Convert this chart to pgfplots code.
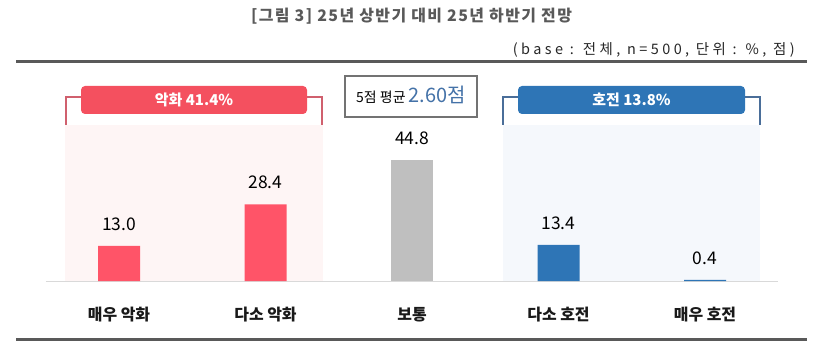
\documentclass[border=0pt]{standalone}
\usepackage{fontspec}
\setmainfont{Noto Sans CJK KR}
\newfontfamily\titlefont[LetterSpace=9]{Noto Sans CJK KR}
\newfontfamily\subfont[LetterSpace=24]{Noto Sans CJK KR}
\usepackage{pgfplots}
\pgfplotsset{compat=1.18}
\definecolor{barred}{HTML}{FF5468}
\definecolor{pillred}{HTML}{F4505F}
\definecolor{brred}{HTML}{D0606E}
\definecolor{bargray}{HTML}{BFBFBF}
\definecolor{barblue}{HTML}{2E75B6}
\definecolor{brblue}{HTML}{4A6E99}
\definecolor{bgpink}{HTML}{FEF5F5}
\definecolor{bgblue}{HTML}{F5F8FC}
\definecolor{titlegray}{HTML}{595959}
\definecolor{avgblue}{HTML}{4472A8}
\begin{document}
\begin{tikzpicture}
\useasboundingbox (0,0) rectangle (837bp,361bp);
% title
\node[font=\titlefont\fontsize{16}{18}\selectfont\bfseries, text=titlegray] at (411.5bp,345bp) {[그림 3] 25년 상반기 대비 25년 하반기 전망};
\node[font=\subfont\fontsize{14.5}{16}\selectfont, text=black!85, anchor=east, inner sep=0pt] at (795bp,311bp) {(base : 전체, n=500, 단위 : \%, 점)};
% rules
\draw[line width=3bp, titlegray] (16bp,299bp) -- (807bp,299bp);
\draw[line width=3bp, titlegray] (16bp,21bp) -- (807bp,21bp);
% backgrounds
\fill[bgpink] (65bp,80bp) rectangle (323bp,236bp);
\fill[bgblue] (503bp,80bp) rectangle (760bp,236bp);
% red bracket
\draw[brred, line width=1.5bp] (66bp,236bp) -- (66bp,264bp) -- (82bp,264bp);
\draw[brred, line width=1.5bp] (322bp,236bp) -- (322bp,264bp) -- (306bp,264bp);
\fill[pillred, rounded corners=4bp] (81bp,247bp) rectangle (307bp,275bp);
\node[text=white, font=\fontsize{15}{17}\selectfont\bfseries] at (194bp,261bp) {악화 41.4\%};
% blue bracket
\draw[brblue, line width=1.5bp] (503bp,236bp) -- (503bp,264bp) -- (519bp,264bp);
\draw[brblue, line width=1.5bp] (760bp,236bp) -- (760bp,264bp) -- (744bp,264bp);
\fill[barblue, rounded corners=4bp] (518bp,247bp) rectangle (745bp,275bp);
\node[text=white, font=\fontsize{15}{17}\selectfont\bfseries] at (631.5bp,261bp) {호전 13.8\%};
% average box
\draw[gray!90!black, line width=1.3bp, fill=white] (345bp,244bp) rectangle (477bp,285bp);
\node[anchor=base] at (411bp,258bp) {\fontsize{14}{16}\selectfont 5점 평균 \textcolor{avgblue}{\fontsize{20}{22}\selectfont 2.60점}};
\begin{axis}[
  at={(45.75bp,80bp)}, anchor=south west,
  scale only axis, width=732.5bp, height=135bp,
  xmin=-0.5, xmax=4.5, ymin=0, ymax=50,
  axis x line=bottom, axis y line=none,
  axis line style={draw=black!15, line width=1bp, -},
  xtick={0,1,2,3,4},
  xticklabels={매우 악화, 다소 악화, 보통, 다소 호전, 매우 호전},
  major tick length=0pt,
  xticklabel style={font=\fontsize{16}{18}\selectfont\bfseries, text=black!90, anchor=center, yshift=-34bp},
  ytick=\empty,
  ybar, bar width=42bp, bar shift=0pt,
  nodes near coords,
  nodes near coords style={font=\fontsize{17.5}{19}\selectfont, text=black, anchor=center, yshift=22bp, /pgf/number format/.cd, fixed, fixed zerofill, precision=1, assume math mode=true},
  clip=false,
]
\addplot[fill=barred, draw=none] coordinates {(0,13.0) (1,28.4)};
\addplot[fill=bargray, draw=none] coordinates {(2,44.8)};
\addplot[fill=barblue, draw=none] coordinates {(3,13.4) (4,0.4)};
\end{axis}
\end{tikzpicture}
\end{document}
